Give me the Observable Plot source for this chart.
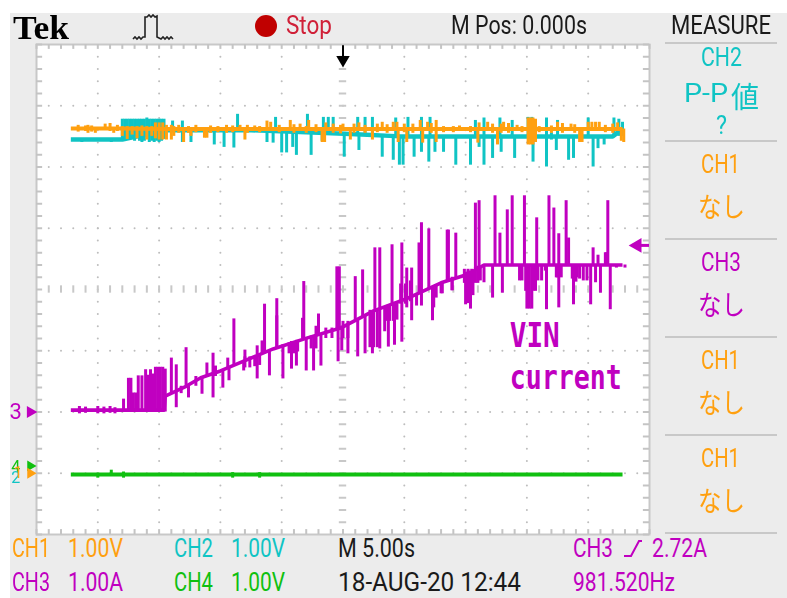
<!DOCTYPE html>
<html>
<head>
<meta charset="utf-8">
<script src="https://cdn.jsdelivr.net/npm/d3@7"></script>
<script src="https://cdn.jsdelivr.net/npm/@observablehq/plot@0.6"></script>
<style>
  html, body { margin: 0; padding: 0; background: #fff; }
  #stage { position: relative; width: 787px; height: 598px; overflow: hidden; filter: blur(0.6px); }
  #panel { position: absolute; left: 10px; top: 13px; right: 0; bottom: 0; background: #ececec; }
  #plot { position: absolute; left: 0; top: 0; }
  .lab { position: absolute; white-space: nowrap; font-family: Roboto, sans-serif; font-size: 25px; line-height: 28px; transform-origin: left center; }
  .cjk { font-family: "Noto Sans CJK JP", sans-serif; }
  .rule { position: absolute; left: 665px; width: 112px; height: 2px; background: #c8c8c8; }
</style>
</head>
<body>
<div id="stage"><div id="panel"></div><div id="plot"></div></div>
<script>
// Time in seconds (5 s/div, centre = 0). CH1/CH2/CH4 in volts (1 V/div), CH3 in amps (1 A/div).
const ch3Base = [[-22.2,.03],[-14.6,.03],[-14.5,.26],[-12.8,.42],[-11.6,.56],[-10,.67],[-8.1,.83],[-5.7,1.03],[-2.9,1.21],[-.2,1.37],[2.5,1.65],[5.3,1.86],[8,2.11],[10.2,2.25],[11.5,2.4],[22.8,2.4]];
const ch3Block = [[-17.9,0,.21],[-17.5,0,.55],[-17.3,0,.55],[-17.1,0,.31],[-16.9,0,.31],[-16.7,0,.59],[-16.4,0,.59],[-16.1,0,.69],[-15.9,0,.6],[-15.7,0,.69],[-15.5,0,.62],[-15.3,0,.73],[-15.1,0,.73],[-14.9,0,.73],[-14.7,0,.73],[-14.5,0,.7]];
const ch3Up = [[-14,.31,.88],[-13.6,.34,.77],[-12.8,.42,1.05],[-11.1,.6,.8],[-10.6,.62,.96],[-9.4,.72,.88],[-8.9,.77,1.52],[-8,.83,1.01],[-7,.91,1.08],[-6.4,.96,1.76],[-5.4,1.05,1.85],[-3.2,1.19,2.13],[-2,1.27,1.6],[-.5,1.36,2.37],[-.3,1.36,2.37],[1,1.5,2.21],[1.6,1.55,2.32],[2.6,1.65,2.68],[3,1.68,2.68],[4,1.76,2.73],[4.8,1.83,2.76],[5.2,1.86,2.35],[5.6,1.89,2.35],[6.2,1.94,2.76],[6.4,1.96,3.09],[7,2.01,2.99],[8.5,2.14,2.97],[8.6,2.14,2.97],[9.2,2.19,2.92],[10.8,2.32,3.41],[11.1,2.35,3.45],[12.4,2.4,3.53],[12.8,2.4,2.92],[13.4,2.4,3.3],[13.8,2.4,3.53],[14.8,2.4,3.53],[15.8,2.4,3.17],[16.8,2.4,3.53],[17.2,2.4,3.33],[17.6,2.4,2.91],[18.2,2.4,3.45],[18.4,2.4,2.84],[20.4,2.4,2.68],[20.8,2.4,2.56],[21.4,2.4,2.6],[21.6,2.4,3.45]];
const ch3Down = [[-13.6,.07,.34],[-12.6,.23,.45],[-11.5,.29,.56],[-10.6,.23,.62],[-9.8,.39,.69],[-9.3,.51,.74],[-8.1,.67,.83],[-7,.54,.91],[-6,.59,1],[-4.9,.54,1.1],[-4.2,.7,1.15],[-3.8,.75,1.17],[-3,.67,1.2],[-2.4,.67,1.24],[-1.8,.75,1.28],[-.4,.82,1.36],[-.1,1,1.37],[.4,.95,1.42],[1.2,.9,1.52],[1.8,.95,1.57],[2.4,.95,1.64],[3,1.03,1.68],[3.4,1.31,1.72],[3.7,1.06,1.75],[4.2,1.09,1.79],[4.8,1.14,1.83],[5.2,1.7,1.86],[5.6,1.49,1.89],[6,1.73,1.92],[6.4,1.73,1.96],[7.3,1.49,2.05],[7.6,1.86,2.08],[8.1,1.93,2.11],[8.9,1.98,2.17],[10,1.75,2.28],[10.2,1.77,2.3],[10.4,1.68,2.3],[10.6,1.9,2.32],[11,2.14,2.36],[11.2,2.14,2.38],[11.5,2.11,2.4],[12.2,1.86,2.4],[13,1.94,2.4],[14.4,2.14,2.4],[14.6,2.14,2.4],[15.1,2.02,2.4],[15,1.68,2.4],[15.2,1.68,2.4],[15.4,1.68,2.4],[15.9,2.14,2.4],[16.6,1.67,2.4],[17.5,2.19,2.4],[17.6,1.7,2.4],[18.8,1.75,2.4],[19.1,2.19,2.4],[19.6,2.14,2.4],[20.2,1.75,2.4],[20.6,2.11,2.4],[21,1.94,2.4],[21.8,1.67,2.4],[22.3,2.35,2.4]];
const ch3Thick = [[-21.5,-.03,.09],[-21,-.02,.08],[-20,-.03,.09],[-19.5,-.03,.08],[-19,-.02,.09],[-18.6,-.03,.07],[-13.2,.3,.42],[-12,.42,.58],[-10.4,.58,.75],[-8,.72,.9],[-7.6,.72,.9],[-7.2,.74,.9],[-6.8,.76,.92],[-6.6,.95,1.16],[-6.4,.95,1.16],[-5.4,1.05,1.57],[-4.4,.95,1.13],[-4,.95,1.13],[-3.7,.98,1.16],[-3.3,1.2,1.53],[-2.6,1.03,1.24],[-2.2,1.03,1.4],[-1.4,1.2,1.37],[-.9,1.2,1.37],[0,1.2,1.48],[.4,1.2,1.48],[2.2,1.05,1.66],[2.5,1.05,1.66],[2.8,1.05,1.66],[3.5,1.48,1.72],[3.8,1.48,1.74],[4.1,1.48,1.76],[4.4,1.5,1.78],[4.7,1.76,2.09],[5.1,1.76,2.09],[5.5,1.8,2.14],[7.4,1.7,2.03],[8,1.93,2.11],[8.9,1.98,2.2],[9.9,2.1,2.33],[10.2,2.1,2.33],[10.5,2.1,2.33],[10.8,2.1,2.36],[11,2.1,2.38],[14.9,1.97,2.4],[15.5,1.97,2.4],[15.7,1.97,2.4],[16.2,2.14,2.4],[16.5,2.3,2.4],[17.4,2.19,2.4],[17.8,2.19,2.4],[18.7,2.17,2.4],[19,2.12,2.4],[19.3,2.17,2.4],[19.9,2.14,2.4],[21.5,2.4,2.6],[23,2.35,2.4]];

const ch2Base = [[-22.2,5.45],[-18,5.45],[-14.5,5.6],[-7.5,5.6],[-3.5,5.57],[.6,5.54],[4.7,5.5],[22,5.5],[22.8,5.62]];
const ch2Block = [[-18,5.46,5.78],[-17.8,5.42,5.78],[-17.6,5.5,5.78],[-17.4,5.44,5.78],[-17.2,5.5,5.78],[-17,5.42,5.78],[-16.8,5.5,5.78],[-16.6,5.42,5.78],[-16.4,5.4,5.78],[-16.2,5.42,5.78],[-16,5.5,5.8],[-15.8,5.4,5.78],[-15.6,5.42,5.78],[-15.4,5.4,5.78],[-15.2,5.42,5.78],[-15,5.4,5.78],[-14.8,5.42,5.78],[-14.6,5.45,5.78]];
const ch2Up = [[-13.9,5.6,5.75],[-13.1,5.6,5.75],[-8.6,5.6,5.86],[-5.5,5.6,5.81],[-2.9,5.57,5.86],[-1.6,5.56,5.81],[-1.2,5.56,5.81],[-.8,5.56,5.81],[1.2,5.54,5.81],[1.8,5.54,5.81],[2.4,5.54,5.81],[4.3,5.5,5.8],[5.3,5.5,5.81],[6.4,5.5,5.81],[7.1,5.5,5.81],[10.8,5.5,5.76],[11.5,5.5,5.8],[12.8,5.5,5.8],[13.8,5.5,5.76],[15.1,5.5,5.81],[15.4,5.5,5.81],[16.6,5.5,5.8],[17.5,5.5,5.76],[20,5.5,5.8],[22.1,5.5,5.8],[22.5,5.5,5.78],[22.8,5.5,5.73]];
const ch2Down = [[-21.3,5.4,5.45],[-18.9,5.4,5.45],[-13.1,5.4,5.6],[-12.4,5.4,5.6],[-10.5,5.36,5.6],[-9.7,5.32,5.6],[-8.9,5.31,5.6],[-6.2,5.4,5.6],[-5.7,5.39,5.6],[-5,5.23,5.6],[-4.6,5.23,5.6],[-4.1,5.32,5.58],[-3.8,5.19,5.57],[-2.6,5.19,5.57],[-1.7,5.42,5.56],[.1,5.16,5.54],[1.3,5.27,5.54],[3.2,5.16,5.52],[4.1,5.11,5.5],[4.6,5.03,5.5],[4.9,5.03,5.5],[5.8,5.16,5.5],[6.4,5.24,5.5],[7,5.08,5.5],[7.5,5.24,5.5],[8.2,5.24,5.5],[9.2,5.03,5.5],[10.4,5.03,5.5],[11.1,5.32,5.5],[11.5,5.03,5.5],[12.2,5.14,5.5],[12.9,5.24,5.5],[14,5.14,5.5],[15.5,5.08,5.5],[16.6,5,5.5],[17,5.44,5.56],[17.4,5.27,5.5],[18.4,5.11,5.5],[18.8,5.14,5.5],[20.4,5,5.5],[20.8,5.3,5.5],[21.3,5.36,5.5]];

const ch1Base = [[-22.2,5.63],[-18,5.63],[-14.5,5.62],[22.8,5.62]];
const ch1Block = [[-18,5.5,5.66],[-17.6,5.45,5.66],[-17.2,5.52,5.66],[-16.8,5.46,5.66],[-16.4,5.5,5.67],[-16,5.44,5.66],[-15.6,5.5,5.66],[-15.3,5.46,5.72],[-15,5.44,5.72],[-14.7,5.44,5.72],[-14.4,5.44,5.68],[-14,5.44,5.68],[-13.8,5.5,5.66],[15.1,5.36,5.8],[15.3,5.36,5.8],[15.5,5.36,5.8],[15.7,5.4,5.78],[20,5.62,5.73],[20.3,5.62,5.73],[20.6,5.62,5.73],[20.9,5.62,5.73]];
const ch1Up = [[-20.8,5.62,5.68],[-19.4,5.62,5.7],[-8.4,5.62,5.68],[-7.2,5.62,5.67],[-5.9,5.62,5.73],[-6.2,5.62,5.75],[-4.3,5.62,5.76],[-3.5,5.62,5.7],[-2.8,5.62,5.76],[-1.4,5.62,5.72],[0,5.62,5.7],[1.3,5.62,5.72],[3.2,5.62,5.73],[4.1,5.62,5.73],[4.4,5.62,5.73],[6.3,5.62,5.76],[6.9,5.62,5.73],[7.6,5.62,5.76],[9.5,5.62,5.67],[11.1,5.62,5.72],[11.8,5.62,5.73],[13.1,5.62,5.73],[14.2,5.62,5.68],[17.5,5.62,5.73],[18.6,5.62,5.7],[22.4,5.62,5.72]];
const ch1Down = [[-20.8,5.55,5.62],[-20.2,5.55,5.62],[-18.7,5.55,5.62],[-13,5.4,5.62],[-12.4,5.5,5.62],[-11.3,5.47,5.62],[-11.1,5.47,5.62],[-8,5.44,5.62],[-1.7,5.4,5.62],[-1.5,5.4,5.62],[.6,5.44,5.62],[2.4,5.44,5.62],[4.5,5.4,5.62],[5.2,5.4,5.62],[6.5,5.39,5.62],[7.6,5.4,5.62],[11,5.39,5.62],[12.6,5.36,5.62],[19.3,5.4,5.62],[19.5,5.4,5.62],[22.7,5.42,5.62],[22.9,5.4,5.62]];
const ch1Thick = [[-21.6,5.57,5.68],[-21,5.58,5.67],[-20.5,5.57,5.67],[-19,5.58,5.71],[-18.4,5.58,5.68],[-13.4,5.55,5.68],[-12.6,5.55,5.66],[-12,5.56,5.68],[-10.8,5.55,5.67],[-10.2,5.56,5.66],[-9.5,5.55,5.68],[-9,5.56,5.67],[-7.8,5.55,5.68],[-6.8,5.56,5.66],[-5.2,5.56,5.68],[-4,5.55,5.69],[-3,5.55,5.66],[-2.2,5.56,5.69],[-.8,5.55,5.7],[-.2,5.54,5.68],[.9,5.55,5.7],[1.8,5.55,5.68],[2.8,5.56,5.7],[3.6,5.55,5.69],[5,5.56,5.7],[5.7,5.55,5.7],[7.2,5.55,5.71],[8.2,5.56,5.66],[9,5.56,5.66],[10.4,5.56,5.66],[12.2,5.55,5.7],[12.9,5.55,5.7],[13.5,5.55,5.71],[14.6,5.56,5.66],[16,5.56,5.66],[17,5.55,5.67],[17.9,5.55,5.71],[18.9,5.55,5.69],[21.4,5.56,5.68],[22,5.55,5.7]];

const ch4Base = [[-22.2,-.02],[22.8,-.02]];
const ch4Nicks = [[-20,-.08,0],[-18.9,-.02,.05],[-17.9,-.08,.02],[-9,-.08,.01],[-6.8,-.08,.01]];

const ch1Colour = "#ffa010", ch2Colour = "#10c4c4", ch3Colour = "#c000c0", ch4Colour = "#10c010";
const ch1Zero = -3, ch2Zero = -3, ch3Zero = -2, ch4Zero = -3;   // ground, in divisions from centre
const triggerLevel = 2.72;
const annotation = ["VIN", "current"];

// Graticule positions: x in seconds (50 s across), y in divisions (8 down).
const xDivs = d3.range(-25, 25.01, 5), yDivs = d3.range(-4, 4.01, 1);
const xFine = d3.range(-25, 25.01, 1), yFine = d3.range(-4, 4.01, .2).map(v => +v.toFixed(1));
const cross = (xs, ys) => xs.flatMap(x => ys.map(y => ({x, y})));
const gridDots = [...cross(xDivs.filter(x => x !== 0 && Math.abs(x) < 25), yFine.filter(y => Math.abs(y) < 4)),
                  ...cross(xFine.filter(x => Math.abs(x) < 25), yDivs.filter(y => y !== 0 && Math.abs(y) < 4))];

const spikes = (data, zero, colour, w = 3) => Plot.ruleX(data, {x: d => d[0], y1: d => d[1] + zero, y2: d => d[2] + zero, stroke: colour, strokeWidth: w});
const trace = (data, zero, colour, w = 4) => Plot.line(data, {x: d => d[0], y: d => d[1] + zero, stroke: colour, strokeWidth: w, strokeLinejoin: "round", strokeLinecap: "butt"});
const tri = (x, y, rotate, fill, r = 4) => Plot.dot([{x, y}], {x: "x", y: "y", symbol: "triangle", rotate, fill, r, stroke: "none"});

const chart = Plot.plot({
  width: 787, height: 598,
  marginLeft: 36, marginRight: 138, marginTop: 44, marginBottom: 64,
  style: {background: "transparent"},
  x: {domain: [-25, 25], axis: null},
  y: {domain: [-4, 4], axis: null},
  marks: [
    Plot.frame({fill: "white", stroke: "#c8c8c8", strokeWidth: 2}),
    Plot.dot(gridDots, {x: "x", y: "y", r: 1, fill: "#bdbdbd"}),
    Plot.ruleX(xFine, {x: d => d, y1: 4, y2: 3.92, stroke: "#c4c4c4", strokeWidth: 2}),
    Plot.ruleX(xFine, {x: d => d, y1: -4, y2: -3.92, stroke: "#c4c4c4", strokeWidth: 2}),
    Plot.ruleY(yFine, {y: d => d, x1: -25, x2: -24.5, stroke: "#c4c4c4", strokeWidth: 2}),
    Plot.ruleY(yFine, {y: d => d, x1: 25, x2: 24.5, stroke: "#c4c4c4", strokeWidth: 2}),
    Plot.ruleY(yFine.filter(y => Math.abs(y) < 4), {y: d => d, x1: -.3, x2: .3, stroke: "#c8c8c8", strokeWidth: 2}),
    Plot.ruleX(xFine.filter(x => Math.abs(x) < 25), {x: d => d, y1: -.06, y2: .06, stroke: "#c8c8c8", strokeWidth: 2}),

    trace(ch2Base, ch2Zero, ch2Colour, 4.5),
    spikes(ch2Block, ch2Zero, ch2Colour),
    spikes(ch2Up, ch2Zero, ch2Colour),
    spikes(ch2Down, ch2Zero, ch2Colour),
    trace(ch1Base, ch1Zero, ch1Colour, 4),
    spikes(ch1Block, ch1Zero, ch1Colour),
    spikes(ch1Thick, ch1Zero, ch1Colour),
    spikes(ch1Up, ch1Zero, ch1Colour),
    spikes(ch1Down, ch1Zero, ch1Colour),
    trace(ch4Base, ch4Zero, ch4Colour, 4),
    spikes(ch4Nicks, ch4Zero, ch4Colour),
    trace(ch3Base, ch3Zero, ch3Colour, 3.6),
    spikes(ch3Block, ch3Zero, ch3Colour),
    spikes(ch3Thick, ch3Zero, ch3Colour),
    spikes(ch3Up, ch3Zero, ch3Colour),
    spikes(ch3Down, ch3Zero, ch3Colour),

    Plot.text(annotation, {x: 13.6, y: (d, i) => -.77 - i * .685, text: d => d, textAnchor: "start",
      fill: ch3Colour, fontFamily: "DejaVu Sans Mono", fontWeight: "bold", fontSize: 33}),

    // Acquisition and trigger position markers
    Plot.ruleX([0], {y1: 3.98, y2: 3.78, stroke: "black", strokeWidth: 2}),
    tri(0, 3.75, 180, "black", 5),
    Plot.ruleY([triggerLevel + ch3Zero], {x1: 24, x2: 25, stroke: ch3Colour, strokeWidth: 3}),
    tri(24, triggerLevel + ch3Zero, -90, ch3Colour, 5.5),

    // Channel ground markers
    Plot.text(["3"], {x: -26.7, y: ch3Zero, text: d => d, fill: ch3Colour, fontFamily: "Roboto", fontSize: 22}),
    tri(-25.5, ch3Zero, 90, ch3Colour, 4.5),
    Plot.text(["4"], {x: -26.7, y: ch4Zero + .1, text: d => d, fill: ch4Colour, fontFamily: "Roboto", fontSize: 16}),
    Plot.text(["2"], {x: -26.7, y: ch2Zero - .08, text: d => d, fill: ch2Colour, fontFamily: "Roboto", fontSize: 16}),
    Plot.text(["1"], {x: -26.5, y: ch1Zero, text: d => d, fill: ch1Colour, fontFamily: "Roboto", fontSize: 16}),
    tri(-25.5, ch4Zero + .12, 90, ch4Colour, 4),
    tri(-25.5, ch1Zero, 90, ch1Colour, 4)
  ]
});
document.getElementById("plot").append(chart);
// The scope's annotation font is condensed: fit each word to its measured width.
chart.querySelectorAll("text").forEach(t => {
  const fit = {VIN: 50, current: 112}[t.textContent];
  if (fit) { t.setAttribute("textLength", fit); t.setAttribute("lengthAdjust", "spacingAndGlyphs"); }
});

// Text around the graticule: left edge, vertical centre, rendered width.
const stage = document.getElementById("stage");
function place(text, left, midY, colour, width, extra = {}) {
  const el = document.createElement("div");
  el.className = "lab" + (extra.cjk ? " cjk" : "");
  el.textContent = text;
  el.style.left = left + "px";
  el.style.top = (midY - 14) + "px";
  el.style.color = colour;
  if (extra.size) el.style.fontSize = extra.size + "px";
  if (extra.family) el.style.fontFamily = extra.family;
  if (extra.weight) el.style.fontWeight = extra.weight;
  stage.append(el);
  if (width) el.style.transform = `scaleX(${width / el.getBoundingClientRect().width})`;
}
const ink = "#1a1a1a";
place("Tek", 13, 28, "#000", 56, {family: '"Liberation Serif"', weight: "bold", size: 33});
place("Stop", 286, 26, "#d02038", 46);
place("M Pos: 0.000s", 451, 26, ink, 136);
place("MEASURE", 671, 26, ink, 100);

place("CH2", 701, 58, ch2Colour, 41);
place("P-P", 684, 94, ch2Colour, 44);
place("値", 731, 95, ch2Colour, 28, {cjk: true, size: 29});
place("?", 716, 126, ch2Colour, 11);
place("CH1", 701, 165, ch1Colour, 39);
place("CH3", 701, 263, ch3Colour, 40);
place("CH1", 701, 361, ch1Colour, 39);
place("CH1", 701, 459, ch1Colour, 39);
[[206, ch1Colour], [304, ch3Colour], [402, ch1Colour], [500, ch1Colour]].forEach(([y, c]) => place("なし", 698, y, c, 47, {cjk: true, size: 27}));
[43, 141, 239, 337, 435, 533].forEach(y => {
  const r = document.createElement("div"); r.className = "rule"; r.style.top = (y - 1) + "px"; stage.append(r);
});

place("CH1", 12, 548.5, ch1Colour, 38); place("1.00V", 68, 548.5, ch1Colour, 55);
place("CH2", 174, 548.5, ch2Colour, 39); place("1.00V", 231, 548.5, ch2Colour, 54);
place("M 5.00s", 338, 548.5, ink, 77);
place("CH3", 573, 548.5, ch3Colour, 40); place("2.72A", 652, 548.5, ch3Colour, 55);
place("CH3", 12, 583, ch3Colour, 38); place("1.00A", 68, 583, ch3Colour, 55);
place("CH4", 174, 583, ch4Colour, 39); place("1.00V", 231, 583, ch4Colour, 54);
place("18-AUG-20 12:44", 338, 583, ink, 183);
place("981.520Hz", 573, 583, ch3Colour, 102);

// Small glyphs: stop lamp, pulse icon, trigger slope
const glyphs = document.createElementNS("http://www.w3.org/2000/svg", "svg");
glyphs.setAttribute("width", 787); glyphs.setAttribute("height", 598);
glyphs.style.cssText = "position:absolute;left:0;top:0;pointer-events:none";
glyphs.innerHTML = `
  <circle cx="266" cy="26" r="11" fill="#c00000"/>
  <path d="M133 39l2-2 2 2 2-2 2 2 2-2 2-0V17l2 0 2-2 2 2 2-2 2 2 2-1V37l2 1 2 1 2-2 2 2 2-2 2 2 2-2 2 2" fill="none" stroke="#222" stroke-width="1.6"/>
  <path d="M624 556h7l8-15h3" fill="none" stroke="${ch3Colour}" stroke-width="2"/>`;
stage.append(glyphs);
</script>
</body>
</html>
